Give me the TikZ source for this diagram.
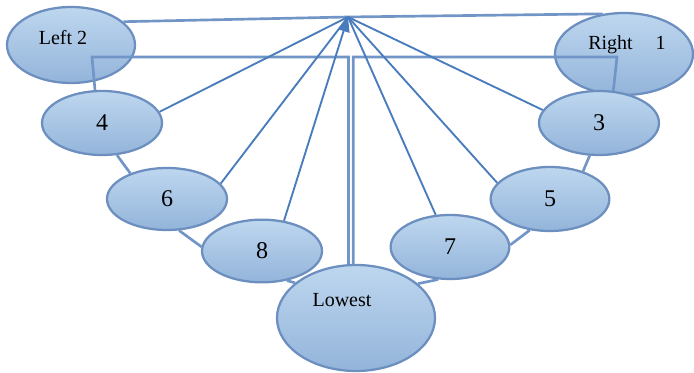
\documentclass[tikz,border=0pt]{standalone}
\usepackage{fontspec}
\setmainfont{Liberation Serif}
\usetikzlibrary{shapes.geometric,arrows.meta}
\definecolor{fillTop}{RGB}{190,215,239}
\definecolor{fillBot}{RGB}{147,180,218}
\definecolor{rim}{RGB}{108,143,192}
\definecolor{link}{RGB}{112,149,198}
\definecolor{ray}{RGB}{72,124,188}
\begin{document}
\begin{tikzpicture}[x=0.75pt,y=-0.75pt]
    \useasboundingbox (0,0) rectangle (694,373);
    \tikzset{VertexStyle/.style = {ellipse, draw=rim, line width=1.7pt, top color=fillTop,
                                   bottom color=fillBot, inner sep=0pt, font=\fontsize{18}{20}\selectfont}}
    \tikzset{WordStyle/.style = {font=\fontsize{15}{17}\selectfont}}
    \node[VertexStyle, minimum width=96pt, minimum height=57pt] (L2) at (71,45) {};
    \node[VertexStyle, minimum width=103.5pt, minimum height=61.5pt] (R1) at (624,54) {};
    \node[VertexStyle, minimum width=90pt, minimum height=48pt] (4) at (102,123) {4};
    \node[VertexStyle, minimum width=90pt, minimum height=46.5pt] (6) at (167,199) {6};
    \node[VertexStyle, minimum width=90pt, minimum height=47pt] (8) at (262,251) {8};
    \node[VertexStyle, minimum width=118.5pt, minimum height=79.5pt] (Low) at (356,318) {};
    \node[VertexStyle, minimum width=89pt, minimum height=48pt] (7) at (450,247) {7};
    \node[VertexStyle, minimum width=89pt, minimum height=48pt] (5) at (550,199) {5};
    \node[VertexStyle, minimum width=90pt, minimum height=48pt] (3) at (599,123) {3};

    \node[WordStyle] (L2text) at (63,38) {Left 2};
    \node[WordStyle] (R1text) at (627,45) {Right\hspace{1.15em}1};
    \node[WordStyle] (Lowtext) at (342,300) {Lowest};

    \coordinate (Top) at (348,17);
    \coordinate (BendL) at (92,57);
    \coordinate (BendR) at (617,57);

    \tikzset{EdgeStyle/.style = {line width=2pt, color=link}}
    \draw[EdgeStyle] (4.-65) -- (6.145);
    \draw[EdgeStyle] (6.-69) -- (8.176);
    \draw[EdgeStyle] (8.-50) -- (Low.150);
    \draw[EdgeStyle] (Low.29) -- (7.-110);
    \draw[EdgeStyle] (7.2) -- (5.-123);
    \draw[EdgeStyle] (5.40) -- (3.-106);
    \draw[EdgeStyle] (Low.98) |- (BendL) -- (4.102);
    \draw[EdgeStyle] (Low.93) |- (BendR) -- (3.66);
    \draw[EdgeStyle] (L2.24) -- (Top);
    \draw[EdgeStyle] (R1.118) -- (Top);

    \tikzset{EdgeStyle/.style = {line width=1.4pt, color=ray}}
    \draw[EdgeStyle] (4.11) -- (Top);
    \draw[EdgeStyle] (6.16) -- (Top);
    \draw[EdgeStyle, -{Triangle[length=11pt,width=9pt]}] (8.54) -- (Top);
    \draw[EdgeStyle] (7.114) -- (Top);
    \draw[EdgeStyle] (5.163) -- (Top);
    \draw[EdgeStyle] (3.167) -- (Top);
\end{tikzpicture}
\end{document}
